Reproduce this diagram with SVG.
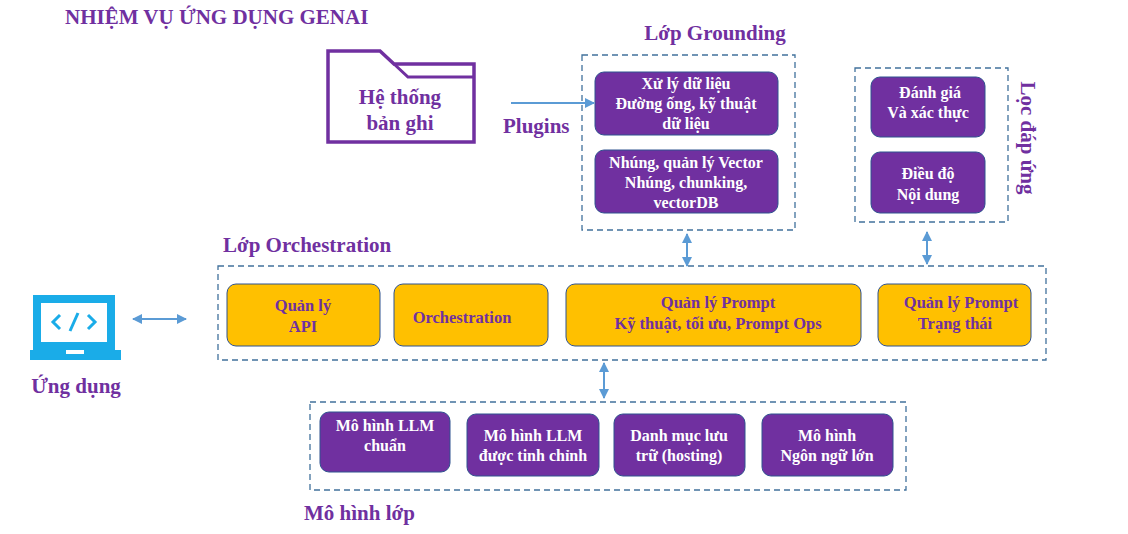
<svg xmlns="http://www.w3.org/2000/svg" width="1128" height="534" viewBox="0 0 1128 534">
<defs>
<marker id="ah" viewBox="0 0 10 10" refX="9" refY="5" markerWidth="5" markerHeight="5" orient="auto-start-reverse"><path d="M0,0 L10,5 L0,10 z" fill="#5B9BD5"/></marker>
<style>
text{font-family:"Liberation Serif","Times New Roman",serif;font-weight:bold}
.lbl{fill:#7030A0;font-size:21px}
.dash{fill:none;stroke:#41719C;stroke-width:1.3;stroke-dasharray:6,4}
.pb{fill:#7030A0;stroke:#2F528F;stroke-width:1}
.pt{fill:#fff;font-size:16px;text-anchor:middle}
.yb{fill:#FFC000;stroke:#2F528F;stroke-width:1}
.yt{fill:#7030A0;font-size:16.5px;text-anchor:middle}
.con{stroke:#5B9BD5;stroke-width:2;fill:none;marker-end:url(#ah)}
.bi{marker-start:url(#ah)}
</style>
</defs>
<rect width="1128" height="534" fill="#fff"/>
<text class="lbl" x="65" y="24">NHIỆM VỤ ỨNG DỤNG GENAI</text>
<g id="folder">
<path d="M328,51 H380 L394,64 H474 V142 H328 Z" fill="#fff" stroke="#7030A0" stroke-width="3.5"/>
<path d="M394,64 L408,77 H474" fill="none" stroke="#7030A0" stroke-width="3"/>
<text class="lbl" x="400" y="104" text-anchor="middle" font-size="22">Hệ thống</text>
<text class="lbl" x="400" y="130" text-anchor="middle" font-size="22">bản ghi</text>
</g>
<text class="lbl" x="503" y="133">Plugins</text>
<g id="grounding">
<text class="lbl" x="715" y="40" text-anchor="middle">Lớp Grounding</text>
<rect class="dash" x="582" y="55" width="213" height="175"/>
<g id="g1"><rect class="pb" x="595" y="72" width="183" height="63" rx="9"/>
<text class="pt" x="686" y="89">Xử lý dữ liệu</text><text class="pt" x="686" y="109">Đường ống, kỹ thuật</text><text class="pt" x="686" y="129">dữ liệu</text></g>
<g id="g2"><rect class="pb" x="595" y="150" width="183" height="63" rx="9"/>
<text class="pt" x="686" y="168">Nhúng, quản lý Vector</text><text class="pt" x="686" y="188">Nhúng, chunking,</text><text class="pt" x="686" y="208">vectorDB</text></g>
</g>
<g id="filter">
<rect class="dash" x="855" y="68" width="153" height="154"/>
<g id="f1"><rect class="pb" x="871" y="77" width="114" height="60" rx="9"/>
<text class="pt" x="930" y="98">Đánh giá</text><text class="pt" x="928" y="118">Và xác thực</text></g>
<g id="f2"><rect class="pb" x="871" y="152" width="114" height="61" rx="9"/>
<text class="pt" x="928" y="179">Điều độ</text><text class="pt" x="928" y="200">Nội dung</text></g>
<text class="lbl" x="0" y="0" font-size="18" text-anchor="middle" transform="translate(1021,138) rotate(90)">Lọc đáp ứng</text>
</g>
<g id="orchestration">
<text class="lbl" x="223" y="252">Lớp Orchestration</text>
<rect class="dash" x="218" y="266" width="828" height="94"/>
<g id="o1"><rect class="yb" x="227" y="284" width="153" height="62" rx="9"/><text class="yt" x="303" y="311">Quản lý</text><text class="yt" x="303" y="332">API</text></g>
<g id="o2"><rect class="yb" x="394" y="284" width="154" height="62" rx="9"/><text class="yt" x="462" y="323" font-size="20">Orchestration</text></g>
<g id="o3"><rect class="yb" x="566" y="284" width="295" height="62" rx="9"/><text class="yt" x="718" y="308">Quản lý Prompt</text><text class="yt" x="718" y="329">Kỹ thuật, tối ưu, Prompt Ops</text></g>
<g id="o4"><rect class="yb" x="878" y="284" width="153" height="62" rx="9"/><text class="yt" x="961" y="308">Quản lý Prompt</text><text class="yt" x="955" y="329">Trạng thái</text></g>
</g>
<g id="app">
<rect x="33" y="295" width="82" height="55" fill="#1AACE8"/>
<rect x="41" y="303" width="66" height="39" fill="#fff"/>
<rect x="30" y="350" width="91" height="10" fill="#1AACE8"/>
<rect x="66" y="350" width="18" height="4" fill="#fff"/>
<path d="M60,315 L53,322 L60,329 M88,315 L95,322 L88,329 M78,313 L70,331" stroke="#1AACE8" stroke-width="3" fill="none"/>
<text class="lbl" x="76" y="393" text-anchor="middle" font-size="22">Ứng dụng</text>
</g>
<g id="models">
<rect class="dash" x="310" y="402" width="596" height="88"/>
<g id="m1"><rect class="pb" x="320" y="412" width="130" height="60" rx="9"/><text class="pt" x="385" y="431">Mô hình LLM</text><text class="pt" x="385" y="451">chuẩn</text></g>
<g id="m2"><rect class="pb" x="467" y="414" width="132" height="62" rx="9"/><text class="pt" x="533" y="441">Mô hình LLM</text><text class="pt" x="533" y="461">được tinh chỉnh</text></g>
<g id="m3"><rect class="pb" x="614" y="414" width="131" height="62" rx="9"/><text class="pt" x="679" y="441">Danh mục lưu</text><text class="pt" x="679" y="461">trữ (hosting)</text></g>
<g id="m4"><rect class="pb" x="762" y="414" width="131" height="62" rx="9"/><text class="pt" x="827" y="441">Mô hình</text><text class="pt" x="827" y="461">Ngôn ngữ lớn</text></g>
<text class="lbl" x="304" y="520">Mô hình lớp</text>
</g>
<g id="connectors">
<line class="con" x1="511" y1="103" x2="594" y2="103"/>
<line class="con bi" x1="687" y1="234" x2="687" y2="266"/>
<line class="con bi" x1="927" y1="232" x2="927" y2="264"/>
<line class="con bi" x1="133" y1="319" x2="186" y2="319"/>
<line class="con bi" x1="604" y1="363" x2="604" y2="398"/>
</g>
</svg>
